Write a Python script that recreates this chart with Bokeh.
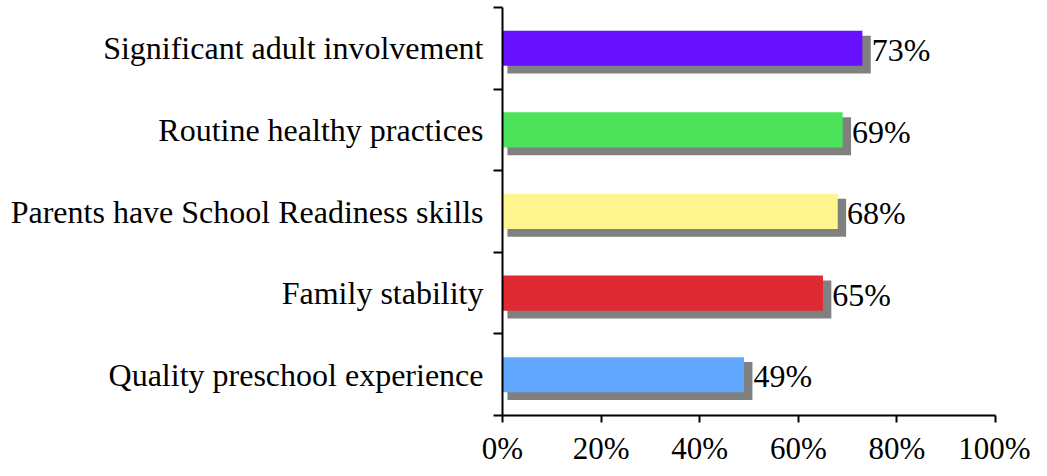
from bokeh.plotting import figure
from bokeh.models import FixedTicker, ColumnDataSource
from bokeh.core.properties import value
from bokeh.embed import file_html
from bokeh.resources import INLINE

categories = ["Quality preschool experience", "Family stability",
              "Parents have School Readiness skills", "Routine healthy practices",
              "Significant adult involvement"]
values = [49, 65, 68, 69, 73]
value_labels = ["49%", "65%", "68%", "69%", "73%"]
colors = ["#62A8FF", "#E02A33", "#FFF58F", "#4CE35A", "#6611FF"]
x_ticks = [0, 20, 40, 60, 80, 100]
x_tick_labels = ["0%", "20%", "40%", "60%", "80%", "100%"]

FONT = "Liberation Serif"
n = len(categories)
centers = [i + 0.5 for i in range(n)]
h = 0.43

src = ColumnDataSource(dict(
    left=[0] * n,
    right=values,
    top=[c + h / 2 for c in centers],
    bottom=[c - h / 2 for c in centers],
    s_left=[1.0] * n,
    s_right=[v + 1.7 for v in values],
    s_top=[c + h / 2 - 0.06 for c in centers],
    s_bottom=[c - h / 2 - 0.095 for c in centers],
    lx=[v + 1.9 for v in values],
    ly=[c - 0.02 for c in centers],
    label=value_labels,
    color=colors,
))

p = figure(width=1030, height=468, output_backend="svg", toolbar_location=None,
           x_range=(0, 100), y_range=(0, 5))
p.min_border_left = 502
p.min_border_right = 35
p.min_border_top = 7
p.min_border_bottom = 52
p.outline_line_color = None
p.grid.visible = False
p.background_fill_color = "white"
p.border_fill_color = "white"

p.quad(left="s_left", right="s_right", top="s_top", bottom="s_bottom",
       source=src, fill_color="#808080", line_color=None)
p.quad(left="left", right="right", top="top", bottom="bottom",
       source=src, fill_color="color", line_color=None)
p.text(x="lx", y="ly", text="label", source=src, text_align="left",
       text_baseline="middle", text_font=value(FONT),
       text_font_size=value("32px"), text_color="black")

# x axis
xa = p.xaxis[0]
xa.ticker = FixedTicker(ticks=x_ticks, minor_ticks=[])
xa.major_label_overrides = {t: l for t, l in zip(x_ticks, x_tick_labels)}
xa.major_tick_in = 0
xa.major_tick_out = 7
xa.major_tick_line_width = 2
xa.axis_line_width = 2
xa.axis_line_color = "black"
xa.major_tick_line_color = "black"
xa.major_label_text_font = FONT
xa.major_label_text_font_size = "31px"
xa.major_label_text_color = "black"
xa.major_label_standoff = 8

# y axis: labels at centres, ticks at boundaries
ya = p.yaxis[0]
ya.ticker = FixedTicker(ticks=centers, minor_ticks=[0, 1, 2, 3, 4, 5])
ya.major_label_overrides = {c: l for c, l in zip(centers, categories)}
ya.major_tick_line_color = None
ya.major_tick_in = 0
ya.major_tick_out = 0
ya.minor_tick_in = 0
ya.minor_tick_out = 9
ya.minor_tick_line_color = "black"
ya.minor_tick_line_width = 2
ya.axis_line_width = 2
ya.axis_line_color = "black"
ya.major_label_text_font = FONT
ya.major_label_text_font_size = "32px"
ya.major_label_text_color = "black"
ya.major_label_standoff = 10

open("out.html", "w").write(file_html(p, INLINE))
